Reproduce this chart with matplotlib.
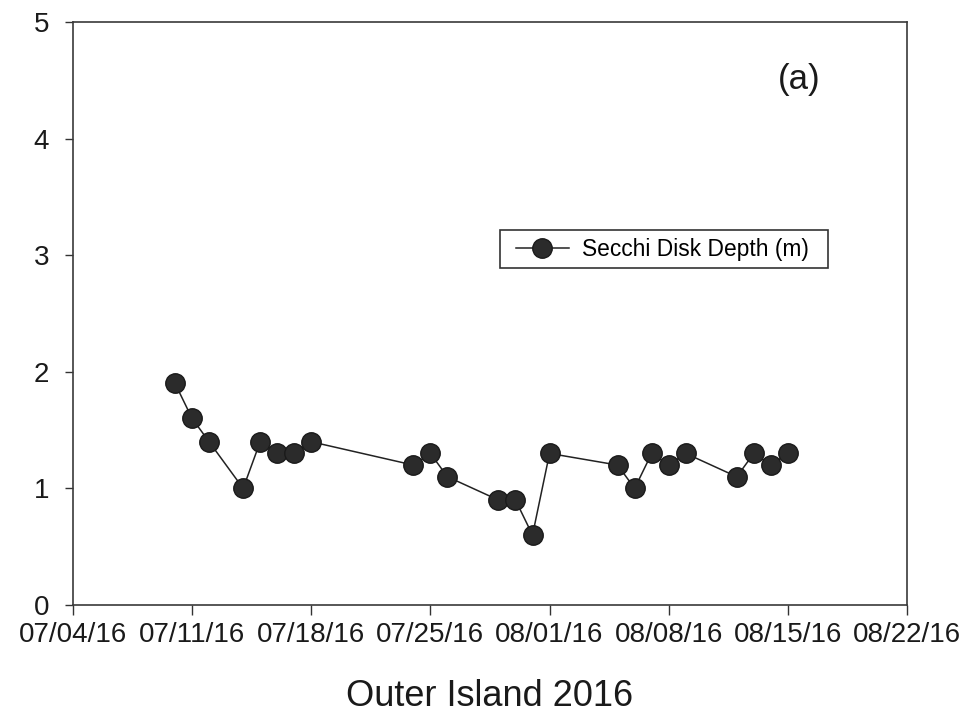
import datetime as dt
import matplotlib
matplotlib.use("Agg")
import matplotlib.pyplot as plt
import matplotlib.dates as mdates
from matplotlib.patches import Rectangle

# data
dates = ["07/10/16", "07/11/16", "07/12/16", "07/14/16", "07/15/16", "07/16/16",
         "07/17/16", "07/18/16", "07/24/16", "07/25/16", "07/26/16", "07/29/16",
         "07/30/16", "07/31/16", "08/01/16", "08/05/16", "08/06/16", "08/07/16",
         "08/08/16", "08/09/16", "08/12/16", "08/13/16", "08/14/16", "08/15/16"]
depth = [1.9, 1.6, 1.4, 1.0, 1.4, 1.3, 1.3, 1.4, 1.2, 1.3, 1.1, 0.9,
         0.9, 0.6, 1.3, 1.2, 1.0, 1.3, 1.2, 1.3, 1.1, 1.3, 1.2, 1.3]
tick_dates = ["07/04/16", "07/11/16", "07/18/16", "07/25/16",
              "08/01/16", "08/08/16", "08/15/16", "08/22/16"]

def parse(s):
    return dt.datetime.strptime(s, "%m/%d/%y")

x = [parse(d) for d in dates]
xt = [parse(d) for d in tick_dates]

plt.rcParams['font.family'] = ['Liberation Sans', 'DejaVu Sans']

fig = plt.figure(figsize=(9.61, 7.23), dpi=100)
ax = fig.add_axes([0.0759, 0.1632, 0.8679, 0.8064])

ax.plot(x, depth, color="#222222", lw=1.1, marker="o", markersize=14,
        markerfacecolor="#2b2b2b", markeredgecolor="#1a1a1a",
        markeredgewidth=1.0, label="Secchi Disk Depth (m)")

ax.set_xlim(xt[0], xt[-1])
ax.set_ylim(0, 5)
ax.set_xticks(xt)
ax.xaxis.set_major_formatter(mdates.DateFormatter("%m/%d/%y"))
ax.set_yticks([0, 1, 2, 3, 4, 5])

ax.tick_params(axis="x", direction="out", length=7, width=1.0,
               labelsize=20, pad=5, colors="#333333", labelcolor="#1a1a1a")
ax.tick_params(axis="y", direction="out", length=6, width=1.0,
               labelsize=20, pad=11, colors="#333333", labelcolor="#1a1a1a")
for sp in ax.spines.values():
    sp.set_color("#3a3a3a")
    sp.set_linewidth(1.2)

# legend without its own frame, boxed by a plain rectangle
ax.legend(loc="center left", bbox_to_anchor=(0.512, 0.6105), fontsize=16.4,
          frameon=False, borderpad=0.7, handlelength=2.33, handletextpad=0.57,
          borderaxespad=0)
ax.add_patch(Rectangle((0.512, 0.578), 0.393, 0.065, transform=ax.transAxes,
                       fill=False, edgecolor="#333333", lw=1.2, zorder=5))

ax.text(0.871, 0.902, "(a)", transform=ax.transAxes, fontsize=25,
        ha="center", va="center", color="#1a1a1a")

fig.text(0.509, 1 - 706 / 723, "Outer Island 2016", fontsize=26,
         ha="center", va="baseline", color="#1a1a1a")

fig.savefig("out.png", dpi=100)
